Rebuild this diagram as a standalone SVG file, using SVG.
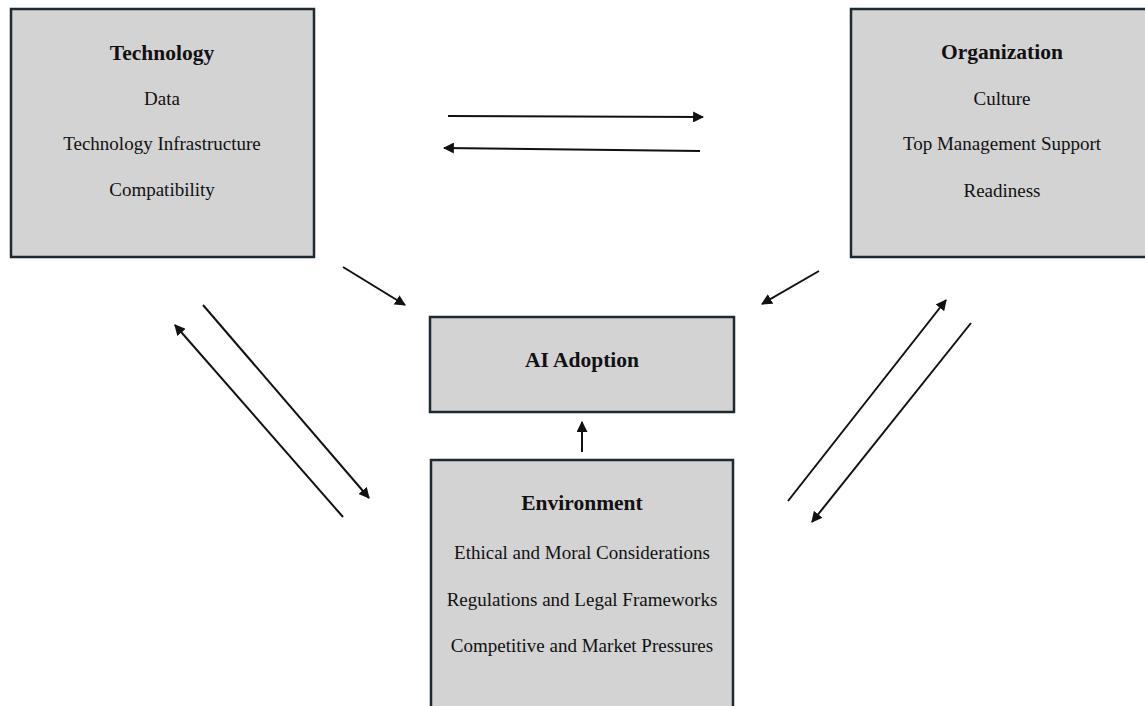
<svg xmlns="http://www.w3.org/2000/svg" width="1145" height="706" viewBox="0 0 1145 706">
<defs>
<marker id="ah" viewBox="0 0 10 10" refX="9" refY="5" markerWidth="5.5" markerHeight="5.5" orient="auto" markerUnits="strokeWidth">
<path d="M0,0 L10,5 L0,10 Z" fill="#111"/>
</marker>
<style>
.box{fill:#d3d3d3;stroke:#1e2a30;stroke-width:2.5}
.t{font-family:"Liberation Serif","Times New Roman",serif;fill:#111;text-anchor:middle}
.h{font-size:21.5px;font-weight:bold}
.i{font-size:19px}
.c line{stroke:#111;stroke-width:2;marker-end:url(#ah)}
</style>
</defs>
<rect width="1145" height="706" fill="#fff"/>
<g id="technology">
<rect class="box" x="11" y="9" width="303" height="248"/>
<text class="t h" x="162" y="60">Technology</text>
<text class="t i" x="162" y="105">Data</text>
<text class="t i" x="162" y="150">Technology Infrastructure</text>
<text class="t i" x="162" y="196">Compatibility</text>
</g>
<g id="organization">
<rect class="box" x="851" y="9" width="310" height="248"/>
<text class="t h" x="1002" y="59">Organization</text>
<text class="t i" x="1002" y="105">Culture</text>
<text class="t i" x="1002" y="150">Top Management Support</text>
<text class="t i" x="1002" y="197">Readiness</text>
</g>
<g id="ai-adoption">
<rect class="box" x="430" y="317" width="304" height="95"/>
<text class="t h" x="582" y="367">AI Adoption</text>
</g>
<g id="environment">
<rect class="box" x="431" y="460" width="302" height="270"/>
<text class="t h" x="582" y="510">Environment</text>
<text class="t i" x="582" y="559">Ethical and Moral Considerations</text>
<text class="t i" x="582" y="606">Regulations and Legal Frameworks</text>
<text class="t i" x="582" y="652">Competitive and Market Pressures</text>
</g>
<g id="connectors" class="c">
<line x1="448" y1="116" x2="703" y2="117"/>
<line x1="700" y1="151" x2="444" y2="148"/>
<line x1="343" y1="267" x2="405" y2="305"/>
<line x1="819" y1="271" x2="762" y2="304"/>
<line x1="582" y1="452" x2="582" y2="422"/>
<line x1="203" y1="305" x2="369" y2="498"/>
<line x1="343" y1="517" x2="175" y2="325"/>
<line x1="788" y1="501" x2="946" y2="300"/>
<line x1="971" y1="323" x2="812" y2="522"/>
</g>
</svg>
